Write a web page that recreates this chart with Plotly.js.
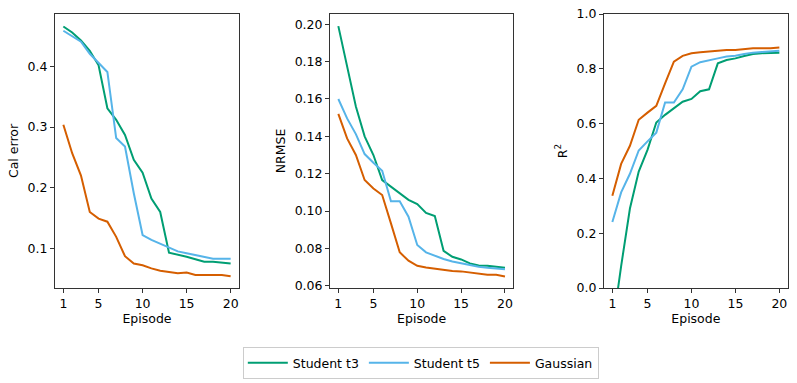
<!DOCTYPE html>
<html>
<head>
<meta charset="utf-8">
<script src="https://cdn.plot.ly/plotly-3.0.1.min.js"></script>
<style>
  html, body { margin: 0; padding: 0; background: #fff; }
  #chart { width: 797px; height: 383px; }
</style>
</head>
<body>
<div id="chart"></div>
<script>
// Episode-wise metrics for three likelihoods
const episodes = Array.from({ length: 20 }, (_, i) => i + 1);

const seriesNames = ['Student t3', 'Student t5', 'Gaussian'];
const seriesColors = ['#009E73', '#56B4E9', '#D55E00'];

const calT3 = [0.466, 0.456, 0.443, 0.426, 0.402, 0.331, 0.312, 0.287, 0.246, 0.225,
               0.182, 0.160, 0.093, 0.090, 0.086, 0.082, 0.078, 0.078, 0.0765, 0.075];
const calT5 = [0.459, 0.450, 0.441, 0.421, 0.406, 0.391, 0.282, 0.268, 0.191, 0.122,
               0.114, 0.108, 0.102, 0.095, 0.092, 0.089, 0.086, 0.083, 0.083, 0.083];
const calGauss = [0.304, 0.257, 0.220, 0.160, 0.149, 0.144, 0.119, 0.087, 0.075, 0.072,
                  0.067, 0.063, 0.061, 0.059, 0.060, 0.056, 0.056, 0.056, 0.056, 0.054];

const nrmseT3 = [0.199, 0.177, 0.156, 0.140, 0.130, 0.1166, 0.113, 0.1095, 0.106, 0.1037,
                 0.099, 0.0973, 0.0787, 0.0755, 0.0741, 0.072, 0.0709, 0.0707, 0.0702, 0.0696];
const nrmseT5 = [0.160, 0.1496, 0.1412, 0.1305, 0.1259, 0.1216, 0.1052, 0.1052, 0.097, 0.0818,
                 0.0779, 0.0759, 0.0743, 0.0730, 0.0720, 0.0711, 0.0702, 0.0696, 0.0693, 0.0688];
const nrmseGauss = [0.152, 0.1389, 0.130, 0.1166, 0.1121, 0.1086, 0.0934, 0.0779, 0.0734, 0.0707,
                    0.0698, 0.0691, 0.0688, 0.0679, 0.0677, 0.067, 0.0663, 0.0659, 0.0659, 0.065];

const r2T3 = [-0.15, 0.08, 0.29, 0.425, 0.504, 0.604, 0.632, 0.656, 0.680, 0.690,
              0.718, 0.725, 0.820, 0.832, 0.838, 0.847, 0.854, 0.857, 0.858, 0.859];
const r2T5 = [0.241, 0.349, 0.417, 0.502, 0.535, 0.567, 0.677, 0.677, 0.725, 0.808,
              0.824, 0.832, 0.838, 0.845, 0.848, 0.854, 0.859, 0.861, 0.863, 0.866];
const r2Gauss = [0.337, 0.453, 0.519, 0.614, 0.640, 0.665, 0.747, 0.826, 0.847, 0.857,
                 0.860, 0.863, 0.865, 0.869, 0.869, 0.872, 0.875, 0.875, 0.875, 0.878];

const panels = [
  { values: [calT3, calT5, calGauss], ylabel: 'Cal error', ticks: [0.1, 0.2, 0.3, 0.4], fmt: '.1f', range: [0.0346, 0.4866] },
  { values: [nrmseT3, nrmseT5, nrmseGauss], ylabel: 'NRMSE', ticks: [0.06, 0.08, 0.10, 0.12, 0.14, 0.16, 0.18, 0.20], fmt: '.2f', range: [0.0588, 0.2055] },
  { values: [r2T3, r2T5, r2Gauss], ylabel: 'R<sup>2</sup>', ticks: [0, 0.2, 0.4, 0.6, 0.8, 1.0], fmt: '.1f', range: [0, 1] }
];

const W = 797, H = 383;
const xDomains = [[55, 239], [330, 513.3], [604, 787.7]];
const yDomain = [(H - 288) / H, (H - 14) / H];
const font = { family: 'DejaVu Sans, sans-serif', size: 12.5, color: '#000' };

const traces = [];
const layout = {
  width: W, height: H,
  margin: { l: 0, r: 0, t: 0, b: 0 },
  paper_bgcolor: '#fff', plot_bgcolor: '#fff',
  font: font,
  showlegend: true,
  legend: {
    orientation: 'h', x: 0.528, xanchor: 'center', y: (H - 347) / H, yanchor: 'top',
    bordercolor: '#cccccc', borderwidth: 1, font: font, itemwidth: 40
  }
};

panels.forEach((p, k) => {
  const ax = k === 0 ? '' : String(k + 1);
  p.values.forEach((vals, s) => {
    traces.push({
      type: 'scatter', mode: 'lines',
      x: episodes, y: vals,
      name: seriesNames[s],
      legendgroup: seriesNames[s],
      showlegend: k === 0,
      line: { color: seriesColors[s], width: 2 },
      xaxis: 'x' + ax, yaxis: 'y' + ax
    });
  });
  const common = {
    showline: true, mirror: true, linecolor: '#333', linewidth: 1,
    ticks: 'outside', ticklen: 4, tickcolor: '#333', showgrid: false, zeroline: false,
    automargin: false, tickfont: font
  };
  layout['xaxis' + ax] = Object.assign({}, common, {
    domain: [xDomains[k][0] / W, xDomains[k][1] / W],
    range: [0.05, 20.95],
    tickvals: [1, 5, 10, 15, 20],
    anchor: 'y' + ax,
    title: { text: 'Episode', font: font, standoff: 4 }
  });
  layout['yaxis' + ax] = Object.assign({}, common, {
    domain: yDomain,
    range: p.range,
    tickvals: p.ticks,
    tickformat: p.fmt,
    anchor: 'x' + ax,
    title: { text: p.ylabel, font: font, standoff: 6 }
  });
});

Plotly.newPlot('chart', traces, layout, { staticPlot: true });
</script>
</body>
</html>
